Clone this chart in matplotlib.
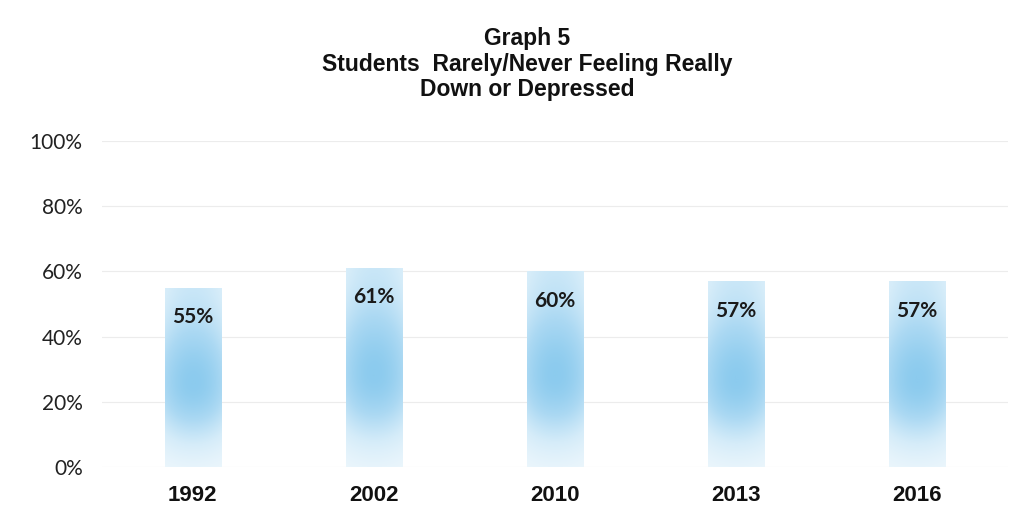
import numpy as np
import matplotlib
matplotlib.use("Agg")
import matplotlib.pyplot as plt
from matplotlib.colors import LinearSegmentedColormap

# Survey results: share of students rarely/never feeling down or depressed
years = ["1992", "2002", "2010", "2013", "2016"]
values = [55, 61, 60, 57, 57]
yticks = [0, 20, 40, 60, 80, 100]

fig = plt.figure(figsize=(10.22, 5.14), dpi=100)
ax = fig.add_axes([0.100, 0.0914, 0.886, 0.6343])

x = np.arange(len(years))
bar_w = 0.31
bars = ax.bar(x, values, width=bar_w, color="none", edgecolor="none", zorder=2)

# soft blue glow fill: darkest near the middle of each bar, fading to the ends
cmap = LinearSegmentedColormap.from_list(
    "glow", ["#f2f9fd", "#d5ecf9", "#acd9f3", "#8ccbee"])
ny, nx = 200, 60
for rect, v in zip(bars, values):
    x0 = rect.get_x()
    x1 = x0 + rect.get_width()
    yy = np.linspace(0, 1, ny)[:, None]
    xx = np.linspace(-1, 1, nx)[None, :]
    vert = np.exp(-((yy - 0.47) / 0.33) ** 2)
    vert = np.where(yy > 0.47, 0.38 + 0.62 * vert, vert)
    horiz = 1 - 0.3 * xx ** 2
    z = np.clip(vert * horiz, 0, 1)
    im = ax.imshow(z, extent=(x0, x1, 0, v), origin="lower", cmap=cmap,
                   vmin=0, vmax=1, aspect="auto", zorder=2,
                   interpolation="bilinear")
    im.set_clip_path(rect)
    ax.text(rect.get_x() + rect.get_width() / 2, v - 9, f"{v}%",
            ha="center", va="center", fontsize=15, fontweight="bold",
            family="Lato", color="#1a1a1a", zorder=3)

ax.set_xlim(-0.5, len(years) - 0.5)
ax.set_ylim(0, 100)
ax.set_yticks(yticks)
ax.set_yticklabels([f"{t}%" for t in yticks], family="Lato", fontsize=15,
                   color="#222222")
ax.set_xticks(x)
ax.set_xticklabels(years, family="Liberation Sans", fontweight="bold",
                   fontsize=16, color="#111111")
ax.tick_params(axis="both", length=0)
ax.tick_params(axis="y", pad=14)
ax.tick_params(axis="x", pad=13)
ax.grid(axis="y", color="#ececec", linewidth=0.8, zorder=0)
ax.set_axisbelow(True)
for s in ax.spines.values():
    s.set_visible(False)

fig.text(0.516, 0.947, "Graph 5\nStudents  Rarely/Never Feeling Really\nDown or Depressed",
         ha="center", va="top", family="Liberation Sans", fontweight="bold",
         fontsize=16.5, color="#111111", linespacing=1.14)

fig.savefig("out.png", dpi=100, facecolor="white")
